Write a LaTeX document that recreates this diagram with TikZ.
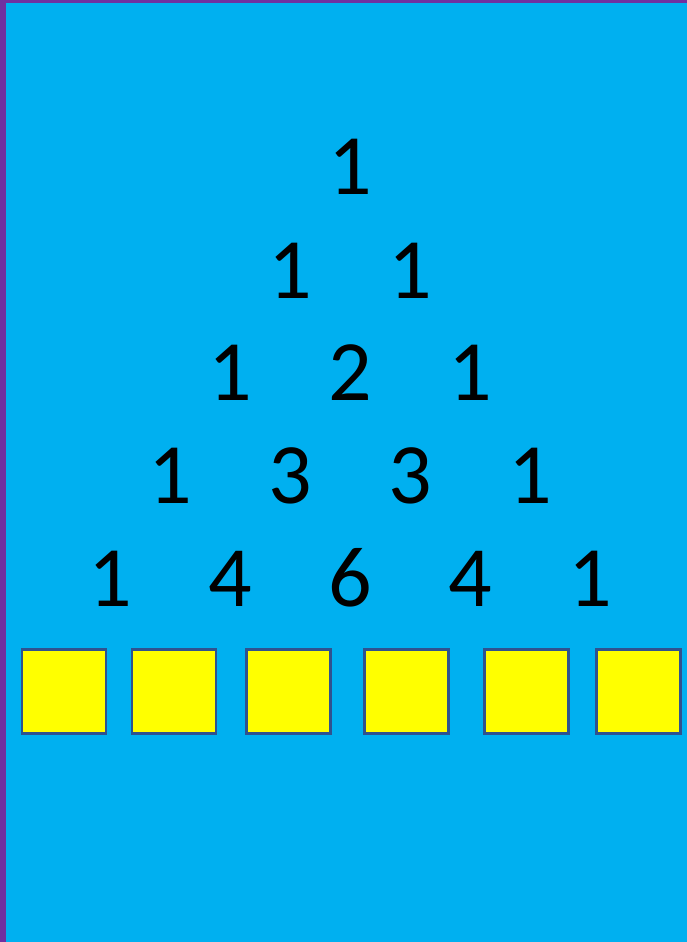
\documentclass[tikz,border=0pt]{standalone}
\usepackage{fontspec}
\setmainfont{Carlito}
\definecolor{bgblue}{HTML}{00B0F0}
\definecolor{edgepurple}{HTML}{7030A0}
\definecolor{boxedge}{HTML}{2F528F}
\definecolor{boxfill}{HTML}{FFFF00}
\begin{document}
\begin{tikzpicture}[x=1pt,y=-1pt,
  num/.style={anchor=base,inner sep=0pt,font=\fontsize{86}{86}\selectfont,text=black},
  slot/.style={draw=boxedge,line width=2.2pt,fill=boxfill,minimum width=84pt,minimum height=84pt,inner sep=0pt}]
\useasboundingbox (0,0) rectangle (687,942);
\fill[edgepurple] (0,0) rectangle (687,942);
\fill[bgblue] (6,3) rectangle (687,942);
% row 1
\node[num] (r1a) at (350,194) {1};
% row 2
\node[num] (r2a) at (290,298) {1};
\node[num] (r2b) at (410,298) {1};
% row 3
\node[num] (r3a) at (230,400) {1};
\node[num] (r3b) at (350,400) {2};
\node[num] (r3c) at (470,400) {1};
% row 4
\node[num] (r4a) at (170,503) {1};
\node[num] (r4b) at (290,503) {3};
\node[num] (r4c) at (410,503) {3};
\node[num] (r4d) at (530,503) {1};
% row 5
\node[num] (r5a) at (110,606) {1};
\node[num] (r5b) at (230,606) {4};
\node[num] (r5c) at (350,606) {6};
\node[num] (r5d) at (470,606) {4};
\node[num] (r5e) at (590,606) {1};
% boxes
\node[slot] (s1) at (64,691.5) {};
\node[slot] (s2) at (174,691.5) {};
\node[slot] (s3) at (288.5,691.5) {};
\node[slot] (s4) at (406.5,691.5) {};
\node[slot] (s5) at (526.5,691.5) {};
\node[slot] (s6) at (638.5,691.5) {};
\end{tikzpicture}
\end{document}
